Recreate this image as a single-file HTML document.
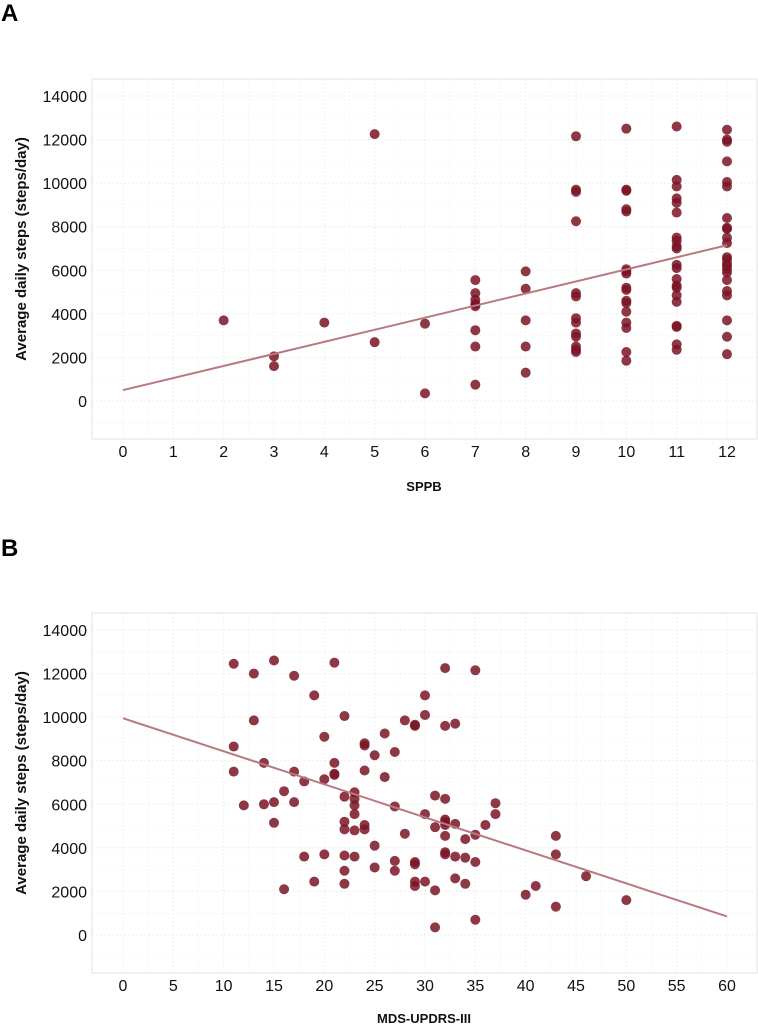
<!DOCTYPE html>
<html><head><meta charset="utf-8">
<style>
body{margin:0;background:#fff;width:758px;height:1025px;overflow:hidden;font-family:"Liberation Sans",sans-serif}
svg text{font-family:"Liberation Sans",sans-serif}
</style></head>
<body>
<svg id="chart" width="758" height="1025" xmlns="http://www.w3.org/2000/svg"></svg>
<script>
// Panel A data: SPPB vs steps
const sppbX = [2,3,3,4,5,5,6,6,
 7,7,7,7,7,7,7,7,
 8,8,8,8,8,
 9,9,9,9,9,9,9,9,9,9,9,9,9,
 10,10,10,10,10,10,10,10,10,10,10,10,10,10,10,10,10,
 11,11,11,11,11,11,11,11,11,11,11,11,11,11,11,11,11,11,11,11,11,
 12,12,12,12,12,12,12,12,12,12,12,12,12,12,12,12,12,12,12,12,12,12,12];
const sppbSteps = [3700,2050,1600,3600,12250,2700,3550,350,
 5550,4950,4650,4450,4350,3250,2500,750,
 5950,5150,3700,2500,1300,
 12150,9700,9600,8250,4950,4800,3800,3600,3100,2950,2500,2350,2250,
 12500,9650,9700,8800,8700,6050,5950,5850,5200,5100,4600,4500,4100,3600,3350,2250,1850,
 12600,10150,9850,9300,9100,8650,7500,7350,7100,7000,6250,6100,5600,5300,5200,4850,4550,3450,3400,2600,2350,
 12450,12000,11900,11000,10050,9850,8400,7950,7900,7500,7250,6600,6500,6300,6200,6050,5900,5550,5050,4850,3700,2950,2150];
const fitA = [[0,500],[12,7150]];
const ticksAx = [0,1,2,3,4,5,6,7,8,9,10,11,12];

// Panel B data: MDS-UPDRS-III vs steps
const updrsX = [11,11,11,12,13,13,14,14,15,15,15,16,16,17,17,17,18,18,19,19,20,20,20,21,21,21,21,
 22,22,22,22,22,22,22,23,23,23,23,23,23,24,24,24,24,24,25,25,25,26,26,27,27,27,27,28,28,
 29,29,29,29,29,29,30,30,30,30,31,31,31,31,32,32,32,32,32,32,32,32,32,33,33,33,33,34,34,34,
 35,35,35,35,36,37,37,40,41,43,43,43,46,50];
const updrsSteps = [12450,8650,7500,5950,12000,9850,7900,6000,12600,6100,5150,6600,2100,11900,7500,6100,7050,3600,11000,2450,9100,7150,3700,12500,7900,7400,7350,
 10050,6350,5200,4850,3650,2950,2350,6550,6250,5950,5550,4800,3600,8800,8700,7550,5050,4850,8250,4100,3100,9250,7250,8400,5900,3400,2950,9850,4650,
 9650,9600,3350,3250,2450,2250,11000,10100,5550,2450,6400,4950,2050,350,12250,9600,6250,5300,5200,5050,4550,3800,3700,9700,5100,3600,2600,4400,3550,2350,
 12150,4600,3350,700,5050,6050,5550,1850,2250,4550,3700,1300,2700,1600];
const fitB = [[0,9950],[60,850]];
const ticksBx = [0,5,10,15,20,25,30,35,40,45,50,55,60];
const ticksY = [0,2000,4000,6000,8000,10000,12000,14000];

const NS='http://www.w3.org/2000/svg';
const svg=document.getElementById('chart');
function mk(tag,attrs,parent){const e=document.createElementNS(NS,tag);for(const k in attrs)e.setAttribute(k,attrs[k]);(parent||svg).appendChild(e);return e;}

function panel(cfg){
  const g=mk('g',{});
  
  
  const xs=v=>cfg.x0+(v-cfg.xmin)/(cfg.xmax-cfg.xmin)*(cfg.x1-cfg.x0);
  const ys=v=>cfg.y0-(v/14000)*(cfg.y0-cfg.y14);
  const fr=mk('rect',{x:92,y:cfg.top,width:665,height:cfg.bottom-cfg.top,fill:'none',stroke:'#e2e2e2','stroke-width':1},g);
  
  
  const step=cfg.xt[1]-cfg.xt[0];
  cfg.xt.forEach((t,i)=>{
    mk('line',{x1:xs(t),x2:xs(t),y1:cfg.top,y2:cfg.bottom,stroke:'#f0f0f0','stroke-width':1,'stroke-dasharray':'2,2'},g);
    if(i<cfg.xt.length-1) mk('line',{x1:xs(t+step/2),x2:xs(t+step/2),y1:cfg.top,y2:cfg.bottom,stroke:'#f6f6f6','stroke-width':1,'stroke-dasharray':'2,2'},g);
    const tl=mk('text',{x:xs(t),y:cfg.bottom+18,'text-anchor':'middle','font-size':16,fill:'#111'},g);
    tl.textContent=t;
    
    
  });
  ticksY.forEach(t=>{
    mk('line',{x1:92,x2:757,y1:ys(t),y2:ys(t),stroke:'#ededed','stroke-width':1,'stroke-dasharray':'2,2'},g);
    mk('line',{x1:92,x2:757,y1:ys(t-1000),y2:ys(t-1000),stroke:'#f6f6f6','stroke-width':1,'stroke-dasharray':'2,2'},g);
    const tl=mk('text',{x:87,y:ys(t)+6,'text-anchor':'end','font-size':16,fill:'#111'},g);
    tl.textContent=t;
    
    
  });
  cfg.xv.forEach((v,i)=>{
    const c=mk('circle',{cx:xs(v),cy:ys(cfg.yv[i]),r:5,fill:'#7a1424','fill-opacity':0.85},g);
    
    
  });
  const ln=mk('line',{x1:xs(cfg.fit[0][0]),y1:ys(cfg.fit[0][1]),x2:xs(cfg.fit[1][0]),y2:ys(cfg.fit[1][1]),stroke:'#b87a80','stroke-width':2},g);
  
  
  const yt=mk('text',{x:0,y:0,'text-anchor':'middle','font-size':15,'font-weight':'bold',fill:'#111',transform:`translate(${cfg.ytx},${(cfg.top+cfg.bottom)/2-10}) rotate(-90)`},g);
  yt.textContent='Average daily steps (steps/day)';
  
  
  const xt=mk('text',{x:424,y:cfg.xty,'text-anchor':'middle','font-size':13,'font-weight':'bold',fill:'#111'},g);
  xt.textContent=cfg.xlabel;
  
  
  const pl=mk('text',{x:1,y:cfg.ply,'font-size':24,'font-weight':'bold',fill:'#000'},g);
  pl.textContent=cfg.letter;
  
  
}

panel({name:'panel-a-sppb',letter:'A',ply:21,top:79,bottom:439,x0:123,x1:727,xmin:0,xmax:12,y0:401,y14:96,
  xv:sppbX,yv:sppbSteps,fit:fitA,xt:ticksAx,xlabel:'SPPB',xty:491,ytx:26});
panel({name:'panel-b-updrs',letter:'B',ply:556,top:613,bottom:973,x0:123,x1:727,xmin:0,xmax:60,y0:935,y14:630,
  xv:updrsX,yv:updrsSteps,fit:fitB,xt:ticksBx,xlabel:'MDS-UPDRS-III',xty:1023,ytx:26});
</script>
</body></html>
